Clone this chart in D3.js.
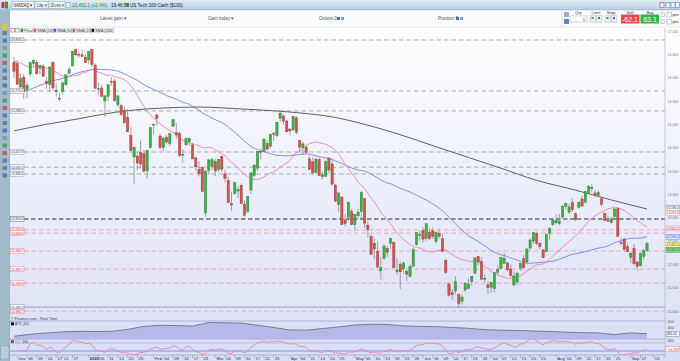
<!DOCTYPE html>
<html>
<head>
<meta charset="utf-8">
<script src="https://cdn.jsdelivr.net/npm/d3@7"></script>
<style>
html, body { margin: 0; padding: 0; background: #fff; }
svg { display: block; font-family: "Liberation Sans", Arial, sans-serif; }
</style>
</head>
<body>
<svg id="chart" width="680" height="361"></svg>
<script>
// ---- data ----
const holidays = ["2021-12-24","2022-01-17","2022-02-21","2022-04-15","2022-05-30","2022-06-20","2022-07-04","2022-09-05"];

// closes before the first candle, only used to warm up the moving averages
const warmupCloses = [
  15310,14970,14990,15140,15300,15320,15230,14800,14760,14690,
  14870,14560,14740,14840,14960,14900,14780,14730,14890,15200,15330,15460,15560,15540,15640,15490,15640,15680,15720,15900,16000,
  16060,16120,16310,16520,16550,16510,16390,16040,16130,16330,16320,16440,16440,16590,16570,16380,16330,16420,16030,16400
];

// daily candles [open, high, low, close], 30 Nov 2021 .. 9 Sep 2022
const ohlc = [
  [16330,16440,15990,16135],
  // Dec
  [16300,16380,15850,15860],[15800,16080,15700,15980],[16010,16080,15540,15700],[15750,15900,15560,15840],
  [16080,16340,16030,16320],[16300,16400,16250,16370],[16330,16380,16070,16080],[16200,16280,16070,16260],
  [16250,16290,16020,16030],[15920,16020,15760,15870],[15850,16240,15700,16230],[16330,16360,15720,15780],
  [15700,15880,15600,15730],[15560,15680,15490,15540],[15700,15890,15630,15890],[15850,16070,15830,16060],
  [16090,16230,16080,16170],[16250,16570,16240,16570],[16600,16620,16460,16490],[16500,16560,16420,16490],
  [16490,16610,16440,16450],[16440,16510,16320,16320],
  // Jan
  [16380,16580,16300,16560],[16600,16620,16230,16280],[16270,16300,15770,15770],[15750,15900,15620,15770],
  [15780,15860,15580,15600],[15500,15620,15160,15610],[15600,15860,15500,15850],[15920,16010,15830,15910],
  [15930,15980,15480,15510],[15420,15620,15370,15610],[15400,15440,15190,15210],[15300,15380,15020,15030],
  [15150,15340,14830,14840],[14760,14940,14430,14440],[14300,14520,13720,14510],[14320,14420,14020,14170],
  [14400,14650,14050,14150],[14370,14450,13960,14000],[14000,14450,13840,14440],[14500,14940,14480,14930],
  // Feb
  [14980,15020,14780,15000],[15200,15220,14970,15130],[14750,14800,14460,14500],[14500,14740,14430,14700],
  [14720,14770,14590,14620],[14590,14810,14540,14800],[14960,15100,14940,15100],[14820,15030,14690,14770],
  [14800,14850,14300,14330],[14340,14470,14180,14360],[14560,14710,14530,14700],[14630,14720,14540,14700],
  [14560,14600,14250,14260],[14280,14310,14000,14090],[14040,14210,13880,13940],[14080,14090,13560,13560],
  [13100,14010,13020,14000],[14010,14240,13930,14240],[14100,14280,14020,14240],
  // Mar
  [14200,14260,13890,14000],[14030,14260,13970,14250],[14310,14320,13980,14040],[13940,14030,13750,13840],
  [13800,13880,13310,13320],[13300,13560,13140,13270],[13520,13770,13490,13750],[13570,13680,13420,13600],
  [13690,13730,13300,13300],[13290,13370,13030,13050],[13140,13460,13100,13450],[13590,13970,13500,13960],
  [13900,14130,13860,14130],[14060,14420,14000,14420],[14420,14480,14250,14400],[14420,14710,14400,14680],
  [14590,14660,14450,14470],[14530,14790,14480,14790],[14810,14830,14650,14790],[14760,15050,14720,15040],
  [15130,15270,15050,15240],[15180,15210,14990,15070],[15070,15100,14830,14840],
  // Apr
  [14900,14910,14760,14860],[14880,15180,14860,15170],[15140,15170,14780,14830],[14650,14660,14380,14510],
  [14500,14630,14350,14580],[14500,14560,14380,14400],[14260,14330,14020,14030],[14200,14290,13910,13960],
  [13970,14280,13950,14250],[14250,14270,13900,13900],[13880,13990,13820,13920],[13880,14240,13870,14200],
  [14280,14280,13960,14020],[14150,14270,13690,13720],[13700,13730,13340,13350],[13280,13540,13130,13530],
  [13440,13460,12850,12850],[12950,13080,12810,12870],[13010,13350,12920,13330],[13140,13190,12840,12850],
  // May
  [12850,13080,12730,13070],[13040,13190,12980,13120],[13130,13570,12960,13540],[13410,13420,12780,12880],
  [12840,12920,12570,12750],[12600,12640,12190,12220],[12450,12580,12110,12330],[12280,12490,11940,11940],
  [11860,12160,11680,11930],[12130,12430,12100,12390],[12340,12390,12150,12260],[12450,12570,12330,12560],
  [12470,12490,11920,11930],[11840,12130,11780,11880],[12000,12050,11470,11840],[11900,12050,11800,12030],
  [11850,11880,11640,11790],[11740,12000,11720,11950],[11960,12360,11950,12320],[12420,12680,12400,12680],
  [12620,12720,12510,12640],
  // Jun
  [12720,12800,12460,12540],[12560,12880,12500,12870],[12690,12770,12520,12550],[12720,12790,12540,12600],
  [12490,12700,12450,12690],[12660,12760,12550,12600],[12550,12660,12270,12270],[12090,12100,11800,11830],
  [11580,11620,11310,11340],[11390,11470,11240,11350],[11430,11750,11360,11630],[11350,11370,11070,11160],
  [11210,11350,11130,11300],[11450,11610,11410,11600],[11480,11700,11470,11570],[11630,11750,11540,11740],
  [11810,12140,11800,12140],[12170,12180,11970,12050],[12060,12150,11670,11680],[11690,11780,11610,11700],
  [11560,11640,11360,11500],
  // Jul
  [11510,11620,11390,11610],[11480,11830,11400,11820],[11830,11980,11780,11890],[11910,12150,11900,12140],
  [12020,12240,12010,12130],[12030,12050,11860,11880],[11900,12000,11730,11760],[11560,11850,11520,11750],
  [11620,11840,11550,11810],[11920,12030,11860,12020],[12120,12200,11900,11930],[12050,12340,12000,12330],
  [12350,12560,12320,12520],[12500,12690,12430,12680],[12660,12700,12410,12450],[12450,12470,12320,12380],
  [12310,12320,12130,12140],[12270,12660,12260,12640],[12660,12790,12530,12770],[12850,12970,12820,12950],
  // Aug
  [12890,13070,12850,12940],[12870,13080,12840,12930],[13010,13270,13000,13250],[13240,13330,13180,13300],
  [13120,13290,13080,13230],[13320,13410,13120,13170],[13090,13100,12930,12960],[13220,13340,13190,13330],
  [13400,13470,13230,13250],[13330,13560,13310,13560],[13520,13690,13510,13670],[13620,13720,13540,13650],
  [13530,13600,13430,13490],[13480,13590,13450,13540],[13410,13420,13240,13280],[13090,13110,12920,12940],
  [12940,13040,12910,12930],[12890,13020,12880,12970],[13020,13190,13000,13190],[13190,13230,12600,12600],
  [12470,12560,12410,12460],[12540,12570,12270,12320],[12380,12450,12260,12270],
  // Sep
  [12150,12260,12030,12240],[12340,12440,11990,12010],[12050,12070,11870,11960],[11970,12250,11950,12230],
  [12170,12330,12100,12290],[12300,12480,12270,12451]
];

// 200-day SMA: [candle index, value]
const sma200Pts = [
  [0,14860],[10,15000],[20,15120],[26,15200],[36,15300],[46,15350],[57,15370],[70,15330],[80,15290],
  [88,15245],[98,15160],[108,15000],[118,14800],[130,14520],[140,14290],[150,14060],[161,13800],
  [173,13590],[184,13380],[195,13186]
];

// ATR(14): [candle index, value]
const atrPts = [
  [0,240],[5,275],[10,300],[15,320],[20,330],[25,325],[30,330],[35,365],[40,420],[45,440],
  [50,435],[55,425],[60,490],[65,485],[70,480],[75,440],[80,400],[85,355],[90,350],[95,380],
  [100,410],[105,445],[110,460],[115,455],[120,430],[125,420],[130,415],[135,400],[140,385],
  [145,360],[150,350],[155,345],[160,335],[165,325],[170,315],[175,305],[180,300],[185,270],
  [190,300],[195,285.11]
];

// horizontal levels drawn on the chart
const grayLevels = [16808.2, 15715.4, 15288.0, 14407.8, 14082.5, 13936.6];
const keyLevel = 12970.2;
const floorLevel = 11083.4;
const redLevels = [12736.8, 12668.4, 12284.7, 11896.1, 11596.8, 10996.7];

const priceTicks = [11000,11500,12000,12500,13000,13500,14000,14500,15000,15500,16000,16500,17000];
const atrTicks = [500, 400];
const cciTicks = [200];

const dateTicks = [
  ["2021-12-01","Dec"],["2021-12-06","06"],["2021-12-09","09"],["2021-12-14","14"],["2021-12-17","17"],["2021-12-21","21"],["2021-12-27","27"],
  ["2022-01-03","2022"],["2022-01-06","06"],["2022-01-11","11"],["2022-01-14","14"],["2022-01-20","20"],["2022-01-25","25"],
  ["2022-02-01","Feb"],["2022-02-04","04"],["2022-02-09","09"],["2022-02-14","14"],["2022-02-17","17"],["2022-02-23","23"],
  ["2022-03-01","Mar"],["2022-03-04","04"],["2022-03-09","09"],["2022-03-14","14"],["2022-03-17","17"],["2022-03-22","22"],["2022-03-25","25"],
  ["2022-04-01","Apr"],["2022-04-06","06"],["2022-04-11","11"],["2022-04-14","14"],["2022-04-20","20"],["2022-04-25","25"],
  ["2022-05-02","May"],["2022-05-05","05"],["2022-05-10","10"],["2022-05-13","13"],["2022-05-18","18"],["2022-05-23","23"],["2022-05-26","26"],
  ["2022-06-01","Jun"],["2022-06-06","06"],["2022-06-09","09"],["2022-06-14","14"],["2022-06-17","17"],["2022-06-23","23"],["2022-06-28","28"],
  ["2022-07-01","Jul"],["2022-07-07","07"],["2022-07-12","12"],["2022-07-15","15"],["2022-07-20","20"],["2022-07-25","25"],
  ["2022-08-01","Aug"],["2022-08-04","04"],["2022-08-09","09"],["2022-08-12","12"],["2022-08-17","17"],["2022-08-22","22"],["2022-08-25","25"],
  ["2022-09-01","Sep"],["2022-09-07","07"],["2022-09-13","13"]
];

// ---- trading days ----
const parse = d3.utcParse("%Y-%m-%d"), fmtDay = d3.utcFormat("%Y-%m-%d");
const hol = new Set(holidays);
const days = [];
let cur = parse("2021-11-30");
while (days.length < ohlc.length + 4) {
  const wd = cur.getUTCDay();
  if (wd !== 0 && wd !== 6 && !hol.has(fmtDay(cur))) days.push(fmtDay(cur));
  cur = d3.utcDay.offset(cur, 1);
}
const dayIndex = new Map(days.map((s, i) => [s, i]));

// ---- derived series ----
const allCloses = warmupCloses.concat(ohlc.map(d => d[3]));
const w0 = warmupCloses.length;
function sma(n) {
  return ohlc.map((d, i) => d3.mean(allCloses.slice(w0 + i - n + 1, w0 + i + 1)));
}
const sma20 = sma(20), sma50 = sma(50);

const tp = ohlc.map(d => (d[1] + d[2] + d[3]) / 3);
const cci = tp.map((v, i) => {
  if (i < 2) return null;
  const win = tp.slice(Math.max(0, i - 19), i + 1);
  const m = d3.mean(win);
  const md = d3.mean(win, t => Math.abs(t - m));
  return md ? (v - m) / (0.015 * md) : 0;
});

// ---- layout ----
const svg = d3.select("#chart");
const defs = svg.append("defs");
const plotL = 10, plotR = 665;
const mainTop = 29, mainBot = 316;
const atrTop = 321, atrBot = 339;
const cciTop = 339, cciBot = 355;

const x = d3.scaleLinear().domain([0, ohlc.length - 1]).range([14, 647]);
const y = d3.scaleLinear().domain([11000, 17000]).range([311, 31]);
const yAtr = d3.scaleLinear().domain([180, 500]).range([339.5, 322]);
const yCci = d3.scaleLinear().domain([-200, 200]).range([355, 339]);

const bg = defs.append("linearGradient").attr("id", "bg").attr("x1", 0).attr("x2", 0).attr("y1", 0).attr("y2", 1);
bg.append("stop").attr("offset", "0%").attr("stop-color", "#ffffff");
bg.append("stop").attr("offset", "100%").attr("stop-color", "#d8def5");
const tb = defs.append("linearGradient").attr("id", "tb").attr("x1", 0).attr("x2", 0).attr("y1", 0).attr("y2", 1);
tb.append("stop").attr("offset", "0%").attr("stop-color", "#e2edf7");
tb.append("stop").attr("offset", "100%").attr("stop-color", "#b9cfe4");

defs.append("clipPath").attr("id", "clipMain").append("rect")
  .attr("x", plotL).attr("y", mainTop).attr("width", plotR - plotL).attr("height", mainBot - mainTop);
defs.append("clipPath").attr("id", "clipCci").append("rect")
  .attr("x", plotL).attr("y", cciTop).attr("width", plotR - plotL).attr("height", cciBot - cciTop);

// backgrounds
svg.append("rect").attr("x", 0).attr("y", 27).attr("width", 680).attr("height", 334).attr("fill", "url(#bg)");

// ---- top toolbar ----
svg.append("rect").attr("x", 0).attr("y", 0).attr("width", 680).attr("height", 10).attr("fill", "url(#tb)");
svg.append("line").attr("x1", 0).attr("x2", 680).attr("y1", 10).attr("y2", 10).attr("stroke", "#8ea8c0").attr("stroke-width", 0.8);
svg.append("rect").attr("x", 1.5).attr("y", 2).attr("width", 3).attr("height", 6).attr("fill", "#c23b3b");
svg.append("rect").attr("x", 5).attr("y", 1.5).attr("width", 3).attr("height", 7).attr("fill", "#3a9a3a");

const topBoxes = [[12, 22, "NASDAQ \u25be"], [35, 13, "1 day \u25be"], [49, 16, "20 units \u25be"]];
topBoxes.forEach(b => {
  svg.append("rect").attr("x", b[0]).attr("y", 1.5).attr("width", b[1]).attr("height", 7)
    .attr("fill", "#f4f8fc").attr("stroke", "#8aa0b8").attr("stroke-width", 0.5);
  svg.append("text").attr("x", b[0] + 1.5).attr("y", 6.8).attr("font-size", 4.6).attr("fill", "#222")
    .attr("textLength", b[1] - 3).attr("lengthAdjust", "spacingAndGlyphs").text(b[2]);
});
svg.append("rect").attr("x", 66).attr("y", 2.5).attr("width", 4).attr("height", 5).attr("fill", "#fff").attr("stroke", "#7890a8").attr("stroke-width", 0.5);
svg.append("text").attr("x", 72).attr("y", 6.8).attr("font-size", 4.6).attr("fill", "#1f9a2a").text("12,451.1 (+2.4%)");
svg.append("text").attr("x", 111).attr("y", 6.8).attr("font-size", 4.6).attr("fill", "#222").text("19:46:57");
svg.append("rect").attr("x", 126).attr("y", 3).attr("width", 3).attr("height", 4).attr("fill", "#2a9a2a");
svg.append("text").attr("x", 130).attr("y", 6.8).attr("font-size", 4.6).attr("fill", "#222").text("US Tech 100 Cash ($100)");
[[660, "#c04040"], [666, "#7088a8"], [671, "#7088a8"], [675.5, "#7088a8"]].forEach(b => {
  svg.append("rect").attr("x", b[0]).attr("y", 2.5).attr("width", 4).attr("height", 5).attr("fill", "#eef3f8").attr("stroke", b[1]).attr("stroke-width", 0.6);
});

// ---- order row ----
svg.append("rect").attr("x", 10).attr("y", 10.5).attr("width", 670).attr("height", 16.5).attr("fill", "#fbfcfe");
[[100, "Latest gain \u25be"], [208, "Gain today \u25be"], [319, "Orders  0"], [438, "Position  0"]].forEach(t => {
  svg.append("text").attr("x", t[0]).attr("y", 19.5).attr("font-size", 4.6).attr("fill", "#555").text(t[1]);
});
[[337, 17], [456, 17]].forEach(p => {
  svg.append("rect").attr("x", p[0]).attr("y", p[1]).attr("width", 3).attr("height", 3).attr("fill", "#3c6fc4");
  svg.append("rect").attr("x", p[0] + 4).attr("y", p[1]).attr("width", 3).attr("height", 3).attr("fill", "#7aa0d8");
});
svg.append("line").attr("x1", 562).attr("x2", 562).attr("y1", 11).attr("y2", 27).attr("stroke", "#c8d2dc").attr("stroke-width", 0.6);
svg.append("rect").attr("x", 564).attr("y", 12).attr("width", 5).attr("height", 5).attr("fill", "#9ab0c8");
svg.append("rect").attr("x", 564).attr("y", 19).attr("width", 5).attr("height", 5).attr("fill", "#5e88c0");
svg.append("text").attr("x", 575).attr("y", 14).attr("font-size", 4.2).attr("fill", "#333").text("Qty");
svg.append("rect").attr("x", 570).attr("y", 16).attr("width", 17).attr("height", 6).attr("fill", "#fff").attr("stroke", "#9aa8b8").attr("stroke-width", 0.5);
svg.append("text").attr("x", 585).attr("y", 20.6).attr("font-size", 4.2).attr("text-anchor", "end").attr("fill", "#333").text("1");
[[590, "Limit"], [605, "Stop"]].forEach(t => {
  svg.append("text").attr("x", t[0] + 6).attr("y", 14).attr("font-size", 4.2).attr("text-anchor", "middle").attr("fill", "#333").text(t[1]);
  svg.append("rect").attr("x", t[0]).attr("y", 15.5).attr("width", 5.5).attr("height", 7).attr("fill", "#e8eef4").attr("stroke", "#9aa8b8").attr("stroke-width", 0.4);
  svg.append("rect").attr("x", t[0] + 6.5).attr("y", 15.5).attr("width", 5.5).attr("height", 7).attr("fill", "#e8eef4").attr("stroke", "#9aa8b8").attr("stroke-width", 0.4);
  svg.append("rect").attr("x", t[0] + 1.5).attr("y", 17).attr("width", 2).attr("height", 2).attr("fill", "#3a9a3a");
  svg.append("rect").attr("x", t[0] + 8).attr("y", 17).attr("width", 2).attr("height", 2).attr("fill", "#c23b3b");
});
svg.append("text").attr("x", 630).attr("y", 13.5).attr("font-size", 4.2).attr("text-anchor", "middle").attr("fill", "#333").text("Sell");
svg.append("text").attr("x", 650).attr("y", 13.5).attr("font-size", 4.2).attr("text-anchor", "middle").attr("fill", "#333").text("Buy");
svg.append("rect").attr("x", 621).attr("y", 14.5).attr("width", 18.5).attr("height", 9).attr("fill", "#e5494e");
svg.append("rect").attr("x", 640.5).attr("y", 14.5).attr("width", 18.5).attr("height", 9).attr("fill", "#2fb548");
svg.append("text").attr("x", 630).attr("y", 21.5).attr("font-size", 7).attr("text-anchor", "middle").attr("fill", "#fff").text("-62.1");
svg.append("text").attr("x", 650).attr("y", 21.5).attr("font-size", 7).attr("text-anchor", "middle").attr("fill", "#fff").text("63.1");
[[13], [20]].forEach(p => {
  svg.append("rect").attr("x", 661).attr("y", p[0]).attr("width", 3.5).attr("height", 3.5).attr("fill", "#fff").attr("stroke", "#8898a8").attr("stroke-width", 0.5);
  svg.append("rect").attr("x", 667).attr("y", p[0] - 0.5).attr("width", 4.5).attr("height", 4.5).attr("fill", "#fff").attr("stroke", "#8898a8").attr("stroke-width", 0.5);
  svg.append("text").attr("x", 672.5).attr("y", p[0] + 3).attr("font-size", 3.6).attr("fill", "#333")
    .attr("textLength", 6).attr("lengthAdjust", "spacingAndGlyphs").text("pts");
});
svg.append("line").attr("x1", 10).attr("x2", 680).attr("y1", 27).attr("y2", 27).attr("stroke", "#d0d8e4").attr("stroke-width", 0.6);

// ---- left toolbar ----
svg.append("rect").attr("x", 0).attr("y", 10).attr("width", 9.5).attr("height", 351).attr("fill", "#a3bccc");
svg.append("line").attr("x1", 9.5).attr("x2", 9.5).attr("y1", 10).attr("y2", 361).attr("stroke", "#7f99ab").attr("stroke-width", 0.6);
const iconYs = d3.range(31, 180, 7.5);
svg.append("rect").attr("x", 2).attr("y", 24).attr("width", 5).attr("height", 5).attr("fill", "#e4c43c");
iconYs.forEach((iy, k) => {
  const c = ["#5a7088", "#3a66c0", "#7890a0", "#3a9a3a", "#c04848", "#4a6ab0"][k % 6];
  svg.append("rect").attr("x", 2.5).attr("y", iy).attr("width", 4.5).attr("height", 4).attr("fill", c).attr("opacity", 0.75);
});
svg.append("rect").attr("x", 0.5).attr("y", 346).attr("width", 8.5).attr("height", 13).attr("fill", "#b8ccd8").attr("stroke", "#7f99ab").attr("stroke-width", 0.5);

// ---- legend row ----
const legend = [["Price", "#3a9a3a", 20], ["SMA (20)", "#e0506a", 33], ["SMA (50)", "#3f5fd8", 53], ["SMA (20)", "#e0506a", 72], ["SMA (200)", "#111", 91]];
svg.append("rect").attr("x", 11).attr("y", 28.5).attr("width", 3.5).attr("height", 3.5).attr("fill", "#fff").attr("stroke", "#c04040").attr("stroke-width", 0.5);
svg.append("rect").attr("x", 15.5).attr("y", 28.5).attr("width", 3.5).attr("height", 3.5).attr("fill", "#fff").attr("stroke", "#3a9a3a").attr("stroke-width", 0.5);
legend.forEach(l => {
  svg.append("rect").attr("x", l[2]).attr("y", 28.3).attr("width", l[0].length * 2.1 + 5).attr("height", 4.2)
    .attr("fill", "#f3f3f6").attr("stroke", "#b8b8c0").attr("stroke-width", 0.4);
  svg.append("rect").attr("x", l[2] + 0.6).attr("y", 28.9).attr("width", 2.6).attr("height", 3).attr("fill", l[1]);
  svg.append("text").attr("x", l[2] + 4.2).attr("y", 31.8).attr("font-size", 3.8).attr("fill", "#333").text(l[0]);
});

// ---- main panel ----
const main = svg.append("g").attr("clip-path", "url(#clipMain)");

function levelLine(v, color, width, dash) {
  main.append("line").attr("x1", 24).attr("x2", plotR).attr("y1", y(v)).attr("y2", y(v))
    .attr("stroke", color).attr("stroke-width", width).attr("stroke-dasharray", dash);
}
grayLevels.forEach(v => levelLine(v, "#a4a4a8", 0.9, "4.5,3"));
levelLine(keyLevel, "#6e6e74", 1.4, "4.5,2.5");
redLevels.forEach(v => levelLine(v, "#f0a0ac", 0.9, "4.5,3"));
main.append("line").attr("x1", 24).attr("x2", plotR).attr("y1", y(floorLevel)).attr("y2", y(floorLevel))
  .attr("stroke", "#9a9ab0").attr("stroke-width", 1);

// moving averages
const maLine = d3.line().x((d, i) => x(i)).y(d => y(d)).curve(d3.curveLinear);
main.append("path").attr("d", maLine(sma50)).attr("fill", "none").attr("stroke", "#7b8ef2").attr("stroke-width", 1);
main.append("path").attr("d", maLine(sma20)).attr("fill", "none").attr("stroke", "#f08cb0").attr("stroke-width", 1);
main.append("path").attr("d", d3.line().x(d => x(d[0])).y(d => y(d[1])).curve(d3.curveMonotoneX)(sma200Pts))
  .attr("fill", "none").attr("stroke", "#5e5e62").attr("stroke-width", 1);

// candles
const cw = 2.3;
const candle = main.append("g").selectAll("g").data(ohlc).join("g");
candle.append("line")
  .attr("x1", (d, i) => x(i)).attr("x2", (d, i) => x(i))
  .attr("y1", d => y(d[1])).attr("y2", d => y(d[2]))
  .attr("stroke", "#8c8c94").attr("stroke-width", 0.8);
candle.append("rect")
  .attr("x", (d, i) => x(i) - cw / 2)
  .attr("y", d => y(Math.max(d[0], d[3])))
  .attr("width", cw)
  .attr("height", d => Math.max(0.8, Math.abs(y(d[0]) - y(d[3]))))
  .attr("fill", d => d[3] >= d[0] ? "#3cb043" : "#d2544f")
  .attr("stroke", d => d[3] >= d[0] ? "#2a7a2e" : "#9a3636")
  .attr("stroke-width", 0.4);

// left level tags
function leftTag(v, stroke, fill, txt) {
  const ty = y(v);
  svg.append("rect").attr("x", 10.5).attr("y", ty - 2.6).attr("width", 13.5).attr("height", 5.2)
    .attr("fill", fill).attr("stroke", stroke).attr("stroke-width", 0.5);
  svg.append("text").attr("x", 11.3).attr("y", ty + 1.4).attr("font-size", 3.7).attr("fill", txt)
    .attr("textLength", 12).attr("lengthAdjust", "spacingAndGlyphs")
    .text(d3.format(",.1f")(v));
}
grayLevels.forEach(v => leftTag(v, "#9a9aa0", "#f6f6f8", "#444"));
leftTag(keyLevel, "#6e6e74", "#f6f6f8", "#333");
redLevels.forEach(v => leftTag(v, "#ee8a98", "#fff4f6", "#d03040"));
leftTag(floorLevel, "#9a9aa0", "#f6f6f8", "#444");

// right axis
svg.append("line").attr("x1", plotR).attr("x2", plotR).attr("y1", 28).attr("y2", 358).attr("stroke", "#b8bccc").attr("stroke-width", 0.8);
priceTicks.forEach(v => {
  svg.append("text").attr("x", 667.5).attr("y", y(v) + 1.5).attr("font-size", 4.2).attr("fill", "#777")
    .attr("textLength", 11).attr("lengthAdjust", "spacingAndGlyphs").text(d3.format(",")(v));
});

function rightTag(v, yy, fill, stroke, txt) {
  svg.append("rect").attr("x", 666).attr("y", yy - 2.5).attr("width", 13.5).attr("height", 5)
    .attr("fill", fill).attr("stroke", stroke).attr("stroke-width", 0.5);
  svg.append("text").attr("x", 666.7).attr("y", yy + 1.4).attr("font-size", 3.8).attr("fill", txt)
    .attr("textLength", Math.min(12, v.length * 1.7)).attr("lengthAdjust", "spacingAndGlyphs").text(v);
}
const lastSma200 = sma200Pts[sma200Pts.length - 1][1];
const lastClose = ohlc[ohlc.length - 1][3];
rightTag(d3.format(",.1f")(lastSma200), y(lastSma200) - 1, "#fafafa", "#888", "#333");
rightTag(d3.format(",.1f")(13063.8), y(lastSma200) + 4, "#fff", "#e88", "#d03040");
rightTag(d3.format(",.1f")(sma50[sma50.length - 1]), y(sma50[sma50.length - 1]), "#dfe6ff", "#6f86ee", "#3050c0");
rightTag(d3.format(",.1f")(sma20[sma20.length - 1]), y(sma20[sma20.length - 1]) + 1.5, "#ffe6ee", "#ee8aa8", "#d03060");
rightTag(d3.format(",.1f")(lastClose), y(lastClose) + 1.5, "#fff89a", "#c8b840", "#333");
rightTag(d3.format(",.1f")(lastClose + 1), y(lastClose) + 6.5, "#8fdc8a", "#3a9a3a", "#114411");

// ---- sub panels ----
svg.append("text").attr("x", 11).attr("y", 319.5).attr("font-size", 3.8).attr("fill", "#444").text("\u00a9 Finance.com - Real Time");
[[atrTop, "#a2a6d4"], [atrBot, "#a2a6d4"], [cciBot, "#a2a6d4"]].forEach(l => {
  svg.append("line").attr("x1", plotL).attr("x2", plotR).attr("y1", l[0]).attr("y2", l[0]).attr("stroke", l[1]).attr("stroke-width", 0.8);
});

// ATR
const atrArea = d3.area().x(d => x(d[0])).y0(atrBot).y1(d => yAtr(d[1])).curve(d3.curveLinear);
svg.append("path").attr("d", atrArea(atrPts)).attr("fill", "#aeb2e4").attr("opacity", 0.85);
svg.append("path").attr("d", d3.line().x(d => x(d[0])).y(d => yAtr(d[1]))(atrPts))
  .attr("fill", "none").attr("stroke", "#6c708c").attr("stroke-width", 0.9);
svg.append("rect").attr("x", 10.5).attr("y", 321.8).attr("width", 14).attr("height", 4).attr("fill", "#eceef8").attr("stroke", "#a0a4c0").attr("stroke-width", 0.4);
svg.append("rect").attr("x", 11).attr("y", 322.3).attr("width", 3).attr("height", 3).attr("fill", "#111");
svg.append("text").attr("x", 14.8).attr("y", 325.2).attr("font-size", 3.5).attr("fill", "#333").text("ATR (14)");
atrTicks.forEach(v => {
  svg.append("text").attr("x", 667.5).attr("y", yAtr(v) + 1.4).attr("font-size", 3.8).attr("fill", "#555").text(v);
});
rightTag(d3.format(".2f")(atrPts[atrPts.length - 1][1]), yAtr(atrPts[atrPts.length - 1][1]), "#f4f4f8", "#888", "#333");

// CCI
svg.append("line").attr("x1", plotL).attr("x2", plotR).attr("y1", yCci(100)).attr("y2", yCci(100)).attr("stroke", "#b4b6ea").attr("stroke-width", 0.9);
svg.append("line").attr("x1", plotL).attr("x2", plotR).attr("y1", yCci(-100)).attr("y2", yCci(-100)).attr("stroke", "#7b86ee").attr("stroke-width", 0.9);
svg.append("g").attr("clip-path", "url(#clipCci)").append("path")
  .attr("d", d3.line().defined(d => d !== null).x((d, i) => x(i)).y(d => yCci(d))(cci))
  .attr("fill", "none").attr("stroke", "#ec80ae").attr("stroke-width", 0.9);
svg.append("rect").attr("x", 10.5).attr("y", 339.6).attr("width", 13).attr("height", 4).attr("fill", "#eceef8").attr("stroke", "#a0a4c0").attr("stroke-width", 0.4);
svg.append("rect").attr("x", 11).attr("y", 340.1).attr("width", 3).attr("height", 3).attr("fill", "#e03040");
svg.append("text").attr("x", 14.8).attr("y", 343).attr("font-size", 3.5).attr("fill", "#333").text("CCI (20)");
cciTicks.forEach(v => {
  svg.append("text").attr("x", 667.5).attr("y", yCci(v) + 2.5).attr("font-size", 3.8).attr("fill", "#555").text(v);
});
const lastCci = cci[cci.length - 1];
rightTag(d3.format(".3f")(lastCci), Math.max(cciTop + 3, Math.min(cciBot - 3, yCci(lastCci))), "#fff", "#e88", "#d03040");

// ---- date axis ----
dateTicks.forEach(t => {
  const i = dayIndex.get(t[0]);
  if (i === undefined) return;
  const tx = x(i);
  svg.append("line").attr("x1", tx).attr("x2", tx).attr("y1", cciBot).attr("y2", cciBot + 3).attr("stroke", "#8088b0").attr("stroke-width", 0.5);
  svg.append("text").attr("x", tx + 1.2).attr("y", 359.6).attr("font-size", 4.2)
    .attr("font-weight", /^[A-Z0-9]{3,4}$/.test(t[1]) && t[1].length > 2 ? "bold" : "normal")
    .attr("fill", "#333").text(t[1]);
});
</script>
</body>
</html>
